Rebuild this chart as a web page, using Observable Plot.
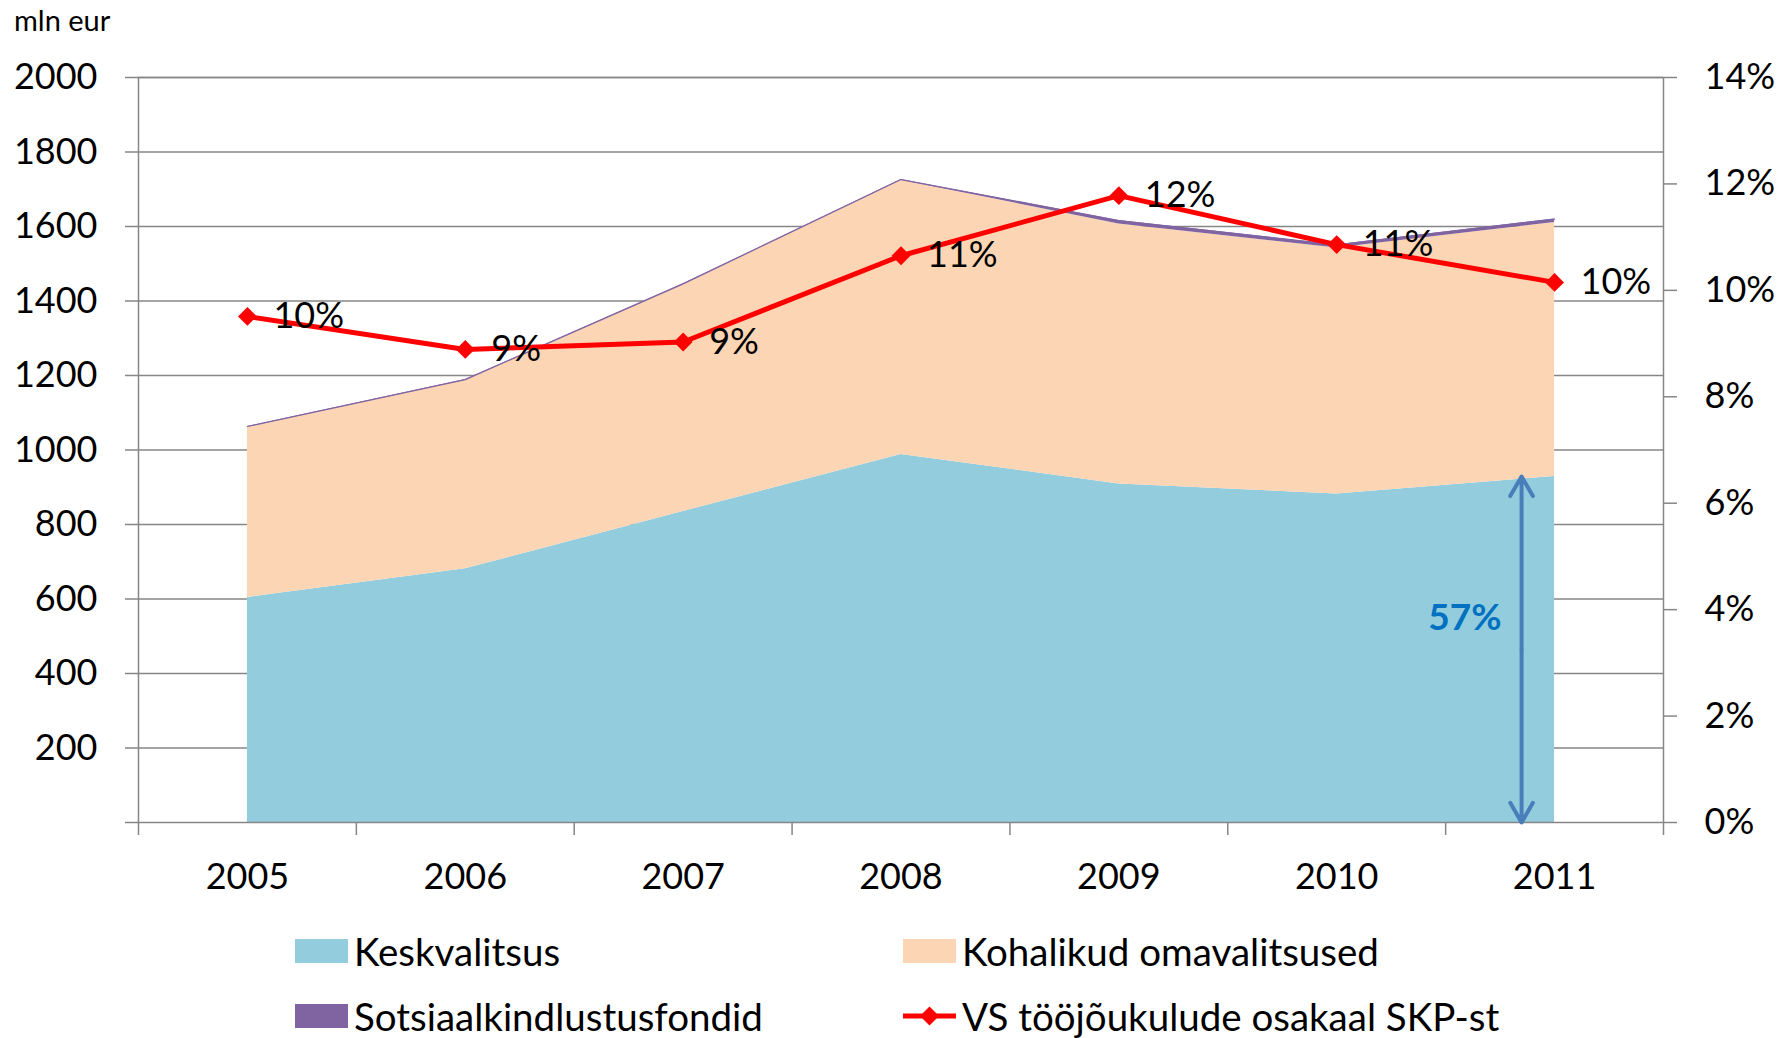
<!DOCTYPE html>
<html><head><meta charset="utf-8">
<script src="https://cdn.jsdelivr.net/npm/d3@7"></script>
<script src="https://cdn.jsdelivr.net/npm/@observablehq/plot@0.6"></script>
<style>
body{margin:0;background:#fff;font-family:Lato,"Open Sans",sans-serif;color:#000;}
#wrap{position:relative;width:1781px;height:1038px;overflow:hidden;}
#unit{position:absolute;left:14px;top:3px;font-size:29px;line-height:34px;}
#chart{position:absolute;left:0;top:40px;width:1781px;height:860px;}
#chart svg{position:absolute;left:0;top:0;overflow:visible;background:transparent;}
.sw{position:absolute;width:53px;height:24px;}
.lt{position:absolute;font-size:38.5px;line-height:44px;height:44px;white-space:nowrap;}
</style></head><body>
<div id="wrap">
<div id="unit">mln eur</div>
<div id="chart"></div>
<div id="legend"></div>
</div>
<script>
// ---- data ----
const years = [2005, 2006, 2007, 2008, 2009, 2010, 2011];
const keskvalitsus = [604, 681, 835, 988, 909, 882, 929];
const kohalikud = [457, 506, 609, 736, 698, 660, 682];
const sotsiaal = [2, 2, 2, 2, 9, 9, 9];
const osakaal = [9.51, 8.89, 9.03, 10.65, 11.78, 10.86, 10.15];
const seriesNames = ["Keskvalitsus", "Kohalikud omavalitsused", "Sotsiaalkindlustusfondid"];
const seriesColors = ["#93CDDD", "#FCD5B5", "#8064A2"];
const lineName = "VS tööjõukulude osakaal SKP-st";
const lineColor = "#FF0000";
const leftTicks = [0, 200, 400, 600, 800, 1000, 1200, 1400, 1600, 1800, 2000];
const rightTicks = [0, 2, 4, 6, 8, 10, 12, 14];
const xBoundaries = [2004.5, 2005.5, 2006.5, 2007.5, 2008.5, 2009.5, 2010.5, 2011.5];

// ---- tables ----
const seriesValues = [keskvalitsus, kohalikud, sotsiaal];
const areaData = [];
seriesNames.forEach((s, k) => years.forEach((y, i) => areaData.push({year: y, series: s, value: seriesValues[k][i]})));
const totals = years.map((y, i) => ({year: y, total: keskvalitsus[i] + kohalikud[i] + sotsiaal[i]}));
const lineData = years.map((y, i) => ({year: y, v: osakaal[i]}));
const last = years.length - 1;
const share = keskvalitsus[last] / totals[last].total;
const arrowData = [{x: years[last], a: keskvalitsus[last] / 2, b: keskvalitsus[last]}, {x: years[last], a: keskvalitsus[last] / 2, b: 0}];

const W = 1781, H = 860;
const M = {marginTop: 37, marginRight: 118, marginBottom: 78, marginLeft: 138};
const gray = "#868686";

const p1 = Plot.plot({
  width: W, height: H, ...M,
  style: {fontFamily: "Lato", background: "transparent", overflow: "visible"},
  x: {type: "linear", domain: [2004.5, 2011.5], axis: null},
  y: {domain: [0, 2000], axis: null},
  color: {domain: seriesNames, range: seriesColors},
  marks: [
    Plot.gridY(leftTicks.slice(1), {stroke: gray, strokeOpacity: 1, strokeWidth: 1.5}),
    Plot.areaY(areaData, {x: "year", y: "value", fill: "series", z: "series", fillOpacity: 1}),
    Plot.lineY(totals, {x: "year", y: "total", stroke: seriesColors[2], strokeWidth: 1.2}),
    Plot.frame({stroke: gray, strokeWidth: 1.5}),
    Plot.axisY(leftTicks, {anchor: "left", tickSize: 13, tickPadding: 28, fontSize: 36, stroke: gray, strokeWidth: 1.5, label: null, tickFormat: d => d === 0 ? "" : String(d)}),
    Plot.axisX(xBoundaries, {anchor: "bottom", tickSize: 13, stroke: gray, strokeWidth: 1.5, label: null, tickFormat: () => ""}),
    Plot.text(years, {x: d => d, frameAnchor: "bottom", dy: 55, text: d => String(d), fontSize: 36, lineAnchor: "middle", fill: "#000"}),
    Plot.arrow(arrowData, {x1: "x", x2: "x", y1: "a", y2: "b", dx: -33, stroke: "#4A7EBB", strokeWidth: 4, headLength: 8.5, headAngle: 60}),
    Plot.text([share], {x: years[last], y: keskvalitsus[last] * 0.59, text: d => d3.format(".0%")(d), dx: -53, textAnchor: "end", lineAnchor: "middle", fontSize: 37, fontWeight: "bold", fill: "#0070C0"})
  ]
});

const p2 = Plot.plot({
  width: W, height: H, ...M,
  style: {fontFamily: "Lato", background: "transparent", overflow: "visible"},
  x: {type: "linear", domain: [2004.5, 2011.5], axis: null},
  y: {domain: [0, 14], axis: null},
  marks: [
    Plot.axisY(rightTicks, {anchor: "right", tickSize: 13, tickPadding: 28, fontSize: 36, stroke: gray, strokeWidth: 1.5, label: null, tickFormat: d => d + "%"}),
    Plot.line(lineData, {x: "year", y: "v", stroke: lineColor, strokeWidth: 5}),
    Plot.dot(lineData, {x: "year", y: "v", symbol: "diamond2", r: 8.5, fill: lineColor, stroke: "none"}),
    Plot.text(lineData, {x: "year", y: "v", text: d => Math.round(d.v) + "%", dx: 26, textAnchor: "start", lineAnchor: "middle", fontSize: 36, fill: "#000"})
  ]
});

const chart = document.getElementById("chart");
chart.appendChild(p1);
chart.appendChild(p2);

// ---- legend ----
const legend = document.getElementById("legend");
const items = [
  {name: seriesNames[0], color: seriesColors[0], x: 295, y: 951, type: "box"},
  {name: seriesNames[1], color: seriesColors[1], x: 903, y: 951, type: "box"},
  {name: seriesNames[2], color: seriesColors[2], x: 295, y: 1016, type: "box"},
  {name: lineName, color: lineColor, x: 903, y: 1016, type: "line"}
];
for (const it of items) {
  if (it.type === "box") {
    const s = document.createElement("div");
    s.className = "sw";
    s.style.left = it.x + "px"; s.style.top = (it.y - 12) + "px"; s.style.background = it.color;
    legend.appendChild(s);
  } else {
    const ns = "http://www.w3.org/2000/svg";
    const svg = document.createElementNS(ns, "svg");
    svg.setAttribute("width", 53); svg.setAttribute("height", 24);
    svg.style.position = "absolute"; svg.style.left = it.x + "px"; svg.style.top = (it.y - 12) + "px";
    const l = document.createElementNS(ns, "line");
    l.setAttribute("x1", 0); l.setAttribute("x2", 53); l.setAttribute("y1", 12); l.setAttribute("y2", 12);
    l.setAttribute("stroke", it.color); l.setAttribute("stroke-width", 5);
    svg.appendChild(l);
    const d = document.createElementNS(ns, "path");
    d.setAttribute("d", "M26.5,2.5L36,12L26.5,21.5L17,12Z");
    d.setAttribute("fill", it.color);
    svg.appendChild(d);
    legend.appendChild(svg);
  }
  const t = document.createElement("div");
  t.className = "lt";
  t.textContent = it.name;
  t.style.left = (it.x + 59) + "px"; t.style.top = (it.y - 22) + "px";
  legend.appendChild(t);
}
</script>
</body></html>
